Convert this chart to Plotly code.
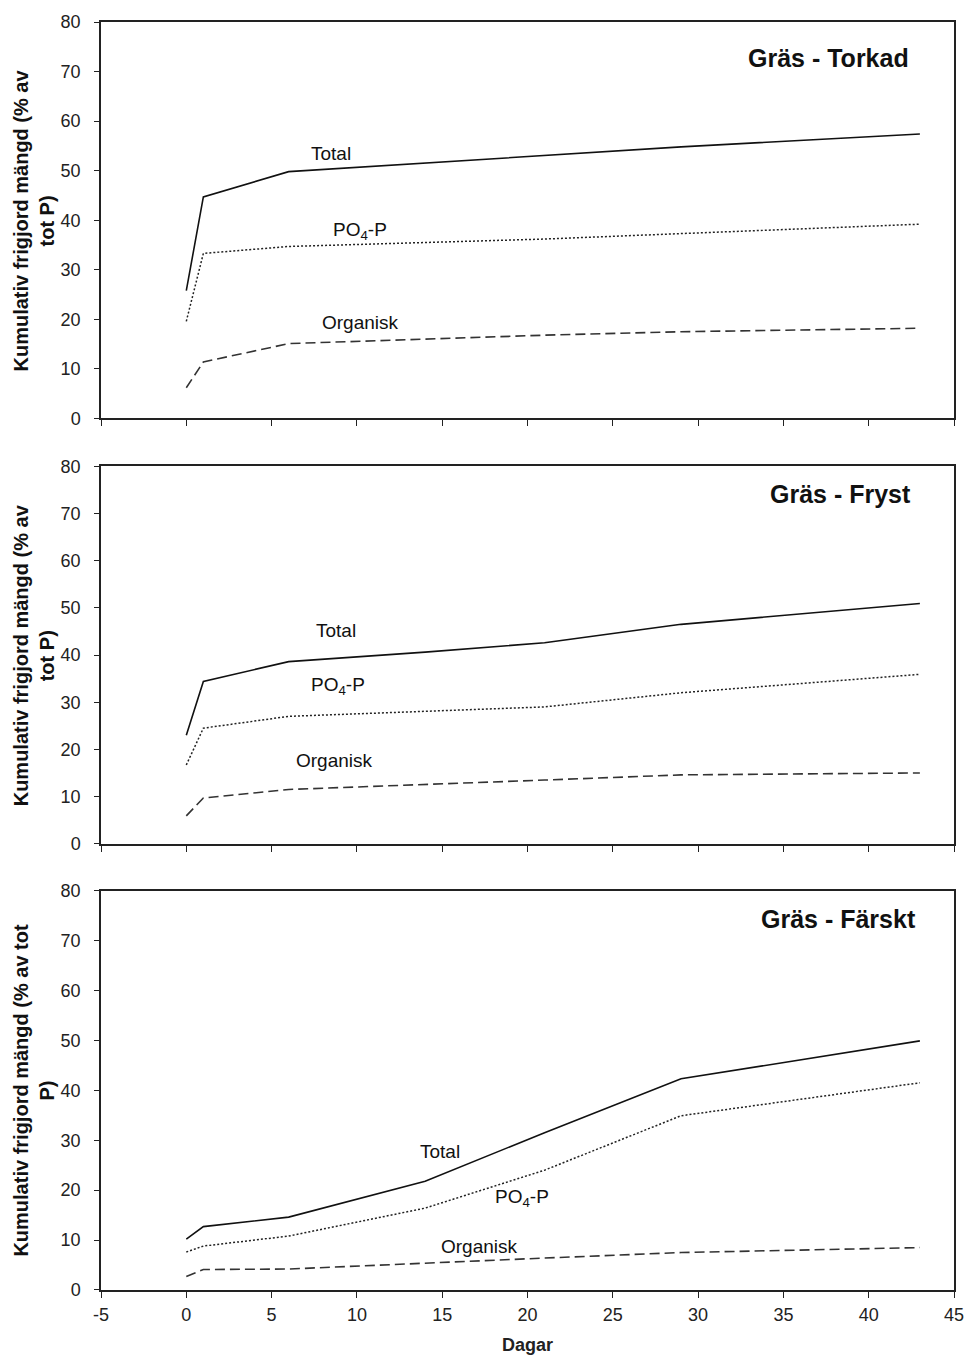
import plotly.graph_objects as go

# Sampling days
dagar = [0, 1, 6, 14, 21, 29, 43]

# Gräs - Torkad
torkad_total = [25.8, 44.7, 49.8, 51.5, 53.0, 54.8, 57.4]
torkad_po4 = [19.6, 33.3, 34.7, 35.5, 36.2, 37.3, 39.2]
torkad_org = [6.2, 11.4, 15.1, 16.0, 16.8, 17.5, 18.2]

# Gräs - Fryst
fryst_total = [23.0, 34.4, 38.6, 40.6, 42.6, 46.5, 50.9]
fryst_po4 = [16.7, 24.5, 27.0, 28.0, 29.0, 32.0, 35.9]
fryst_org = [5.9, 9.7, 11.5, 12.5, 13.5, 14.6, 15.0]

# Gräs - Färskt
farskt_total = [10.2, 12.7, 14.6, 21.8, 31.5, 42.3, 49.9]
farskt_po4 = [7.6, 8.8, 10.8, 16.4, 24.0, 34.9, 41.5]
farskt_org = [2.7, 4.1, 4.2, 5.4, 6.4, 7.5, 8.5]

x_ticks = [-5, 0, 5, 10, 15, 20, 25, 30, 35, 40, 45]
x_tick_labels = ["-5", "0", "5", "10", "15", "20", "25", "30", "35", "40", "45"]

panel_titles = ["Gräs - Torkad", "Gräs - Fryst", "Gräs - Färskt"]
y_titles = [
    "Kumulativ frigjord mängd (% av<br>tot P)",
    "Kumulativ frigjord mängd (% av<br>tot P)",
    "Kumulativ frigjord mängd (% av tot<br>P)",
]
x_title = "Dagar"
series_names = ["Total", "PO<sub>4</sub>-P", "Organisk"]

panels = [
    (torkad_total, torkad_po4, torkad_org),
    (fryst_total, fryst_po4, fryst_org),
    (farskt_total, farskt_po4, farskt_org),
]

# label positions (day, value) per panel: Total, PO4-P, Organisk
label_pos = [
    [(8.5, 53.5), (10.2, 37.8), (10.2, 19.3)],
    [(8.8, 45.2), (8.9, 33.4), (8.7, 17.7)],
    [(14.9, 27.7), (19.7, 18.4), (17.2, 8.8)],
]
title_pos = [(42.5, 72.8), (42.6, 74.1), (42.9, 74.3)]

FONT = "Liberation Sans, Arial, sans-serif"
W, H = 976, 1364
ML, MR, MT, MB = 101, 18, 18, 73
plot_h = H - MT - MB

# panel pixel extents (top, bottom) in page coordinates
panel_px = [(18, 416), (464, 843), (890, 1291)]


def to_paper(py):
    return (H - MB - py) / plot_h


styles = [
    dict(color="#111111", width=1.6, dash="solid"),
    dict(color="#222222", width=1.5, dash="2px,2px"),
    dict(color="#333333", width=1.6, dash="10px,5px"),
]

fig = go.Figure()
layout = dict(
    width=W,
    height=H,
    margin=dict(l=ML, r=MR, t=MT, b=MB),
    paper_bgcolor="white",
    plot_bgcolor="white",
    showlegend=False,
    font=dict(family=FONT, color="#222222"),
)

annotations = []
for i, (series, (top, bot)) in enumerate(zip(panels, panel_px)):
    n = "" if i == 0 else str(i + 1)
    xa, ya = "x" + n, "y" + n
    for vals, st, name in zip(series, styles, series_names):
        fig.add_trace(
            go.Scatter(
                x=dagar, y=vals, mode="lines", name=name,
                line=st, xaxis=xa, yaxis=ya, hoverinfo="skip",
            )
        )
    last = i == 2
    layout["xaxis" + n] = dict(
        domain=[0, 1], anchor=ya, range=[-5, 45],
        tickmode="array", tickvals=x_ticks, ticktext=x_tick_labels,
        showgrid=False, zeroline=False, showline=True, linecolor="#222222",
        linewidth=1.5, mirror=True, ticks="outside", ticklen=6,
        tickcolor="#222222", tickwidth=1.3, showticklabels=last,
        ticklabelstandoff=2,
        tickfont=dict(family=FONT, size=18, color="#222222"),
        title=dict(text="<b>" + x_title + "</b>", standoff=14,
                   font=dict(family=FONT, size=18, color="#222222")) if last else None,
    )
    layout["yaxis" + n] = dict(
        domain=[to_paper(bot), to_paper(top)], anchor=xa, range=[0, 80],
        dtick=10, showgrid=False, zeroline=False, showline=True,
        linecolor="#222222", linewidth=1.5, mirror=True, ticks="outside",
        ticklen=5, tickcolor="#222222", tickwidth=1.3,
        ticklabelstandoff=10,
        tickfont=dict(family=FONT, size=18, color="#222222"),
    )
    # y-axis title as rotated two-line text
    annotations.append(dict(
        text="<b>" + y_titles[i] + "</b>", textangle=-90,
        xref="paper", yref="paper",
        x=(34 - ML) / (W - ML - MR), y=(to_paper(top) + to_paper(bot)) / 2,
        xanchor="center", yanchor="middle", showarrow=False,
        font=dict(family=FONT, size=20, color="#111111"),
    ))
    # series labels
    for name, (lx, ly) in zip(series_names, label_pos[i]):
        annotations.append(dict(
            text=name, x=lx, y=ly, xref=xa, yref=ya, showarrow=False,
            xanchor="center", yanchor="middle",
            font=dict(family=FONT, size=19, color="#111111"),
        ))
    # panel title
    tx, ty = title_pos[i]
    annotations.append(dict(
        text="<b>" + panel_titles[i] + "</b>", x=tx, y=ty, xref=xa, yref=ya,
        showarrow=False, xanchor="right", yanchor="middle",
        font=dict(family=FONT, size=25, color="#111111"),
    ))

layout["annotations"] = annotations
fig.update_layout(**layout)
fig.write_html("out.html")
